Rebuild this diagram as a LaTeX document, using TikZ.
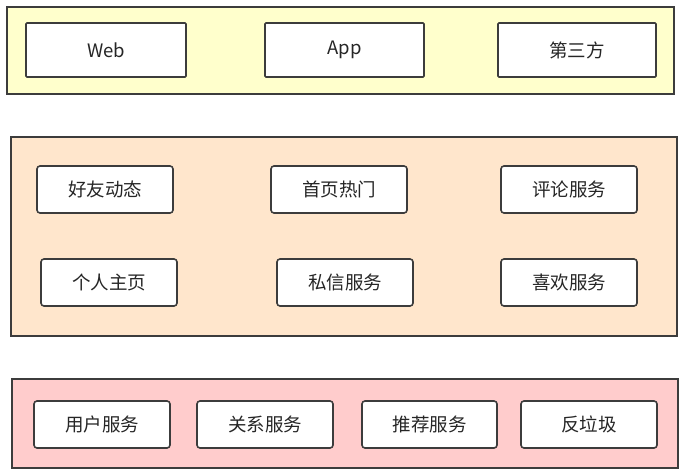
\documentclass[tikz,border=0pt]{standalone}
\usepackage{fontspec}
\setmainfont{Noto Sans CJK SC}
\usepackage{tikz}
\usetikzlibrary{positioning}
\definecolor{layerA}{HTML}{FFFFCC}
\definecolor{layerB}{HTML}{FFE6CC}
\definecolor{layerC}{HTML}{FFCCCC}
\definecolor{edgegray}{HTML}{3C3C3C}

\begin{document}
\begin{tikzpicture}[x=1pt,y=-1pt,
layer/.style={draw=edgegray,line width=1.6pt,anchor=north west,inner sep=0pt},
box/.style={draw=edgegray,line width=1.6pt,fill=white,rounded corners=3pt,minimum width=136pt,minimum height=47pt,inner sep=0pt,font=\fontsize{18.5}{22}\selectfont,text=black!85}]
\useasboundingbox (0,0) rectangle (685,473);

% layers
\node[layer,fill=layerA,minimum width=667pt,minimum height=87pt] (top) at (6,6) {};
\node[layer,fill=layerB,minimum width=666pt,minimum height=199pt] (mid) at (10,136) {};
\node[layer,fill=layerC,minimum width=666pt,minimum height=89pt] (bot) at (11,378) {};

% clients
\node[box,rounded corners=1pt,minimum width=160pt,minimum height=54pt] (web) at (106,50) {Web};
\node[box,rounded corners=1pt,minimum width=159pt,minimum height=54pt] (app) at (344.5,50) {App};
\node[box,rounded corners=1pt,minimum width=158pt,minimum height=54pt] (third) at (577,50) {第三方};

% services
\node[box] (feed) at (105,189.5) {好友动态};
\node[box] (hot) at (339,189.5) {首页热门};
\node[box] (comment) at (569,189.5) {评论服务};
\node[box] (home) at (109,282.5) {个人主页};
\node[box] (msg) at (345,282.5) {私信服务};
\node[box] (like) at (569,282.5) {喜欢服务};

% base
\node[box] (user) at (102,424.5) {用户服务};
\node[box] (rel) at (265,424.5) {关系服务};
\node[box,minimum width=135pt] (rec) at (429.5,424.5) {推荐服务};
\node[box] (spam) at (589,424.5) {反垃圾};
\end{tikzpicture}
\end{document}
